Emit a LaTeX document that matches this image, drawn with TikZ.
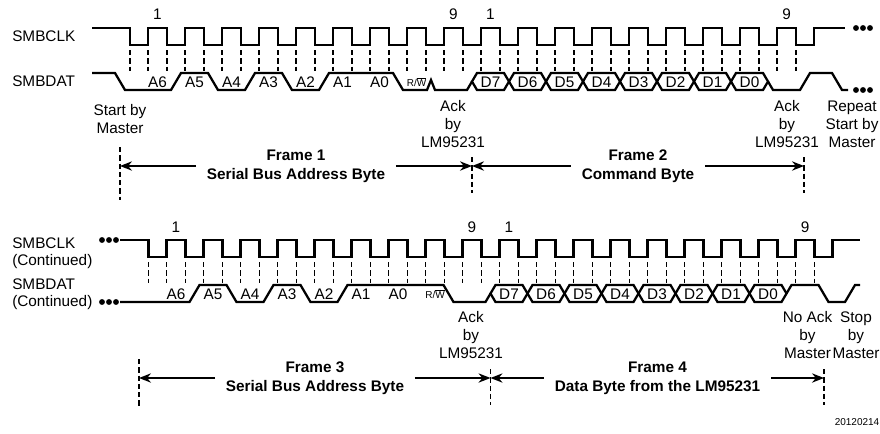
\documentclass[tikz,border=0pt]{standalone}
\usepackage{fontspec}
\setmainfont{Liberation Sans}
\usetikzlibrary{arrows.meta}

\begin{document}
\begin{tikzpicture}[x=0.75pt,y=-0.75pt,
    wave/.style={line width=1.7pt},
    tick/.style={line width=0.85pt,dash pattern=on 4pt off 2.2pt},
    frmarrow/.style={line width=1.1pt,arrows={-Stealth[length=9pt,width=7pt]}},
    sig/.style={font=\fontsize{11.5}{12.75}\selectfont,align=left,inner sep=0pt},
    note/.style={font=\fontsize{11.5}{13.5}\selectfont,align=center,inner sep=0pt},
    bit/.style={font=\fontsize{11.5}{13}\selectfont,inner sep=0pt},
    small/.style={font=\fontsize{7.5}{9}\selectfont,inner sep=0pt},
    frm/.style={font=\fontsize{11.5}{14.25}\selectfont\bfseries,align=center,inner xsep=8pt,inner ysep=0pt}]
\useasboundingbox (0,0) rectangle (880,433);

% signal names
\node[sig,anchor=west] (clk) at (12,36.5) {SMBCLK};
\node[sig,anchor=west] (dat) at (12,81.5) {SMBDAT};
\node[sig,anchor=west] (clkc) at (12,253.5) {SMBCLK\\(Continued)};
\node[sig,anchor=west] (datc) at (12,294) {SMBDAT\\(Continued)};

% frames 1 and 2
\draw[wave] (92,28) -- (130,28) -- (130,45)
    \foreach \k in {0,...,17} { -- ({148+37*\k},45) -- ({148+37*\k},28) -- ({167+37*\k},28) -- ({167+37*\k},45) }
    -- (814,45) -- (814,28) -- (845,28);
\draw[tick] (130,50) -- (130,71);
\foreach \k in {0,...,17} {
    \draw[tick] ({148+37*\k},50) -- ({148+37*\k},71);
    \draw[tick] ({167+37*\k},50) -- ({167+37*\k},71);
}
\draw[wave] (92,73) -- (115,73) -- (125,90) -- (171,90) -- (181,73) -- (208,73) -- (218,90)
    -- (245,90) -- (255,73) -- (282,73) -- (292,90) -- (319,90) -- (329,73) -- (393,73)
    -- (403,90) -- (427,90) -- (431,80) -- (435,90) -- (467,90) -- (472,81.5);
\foreach \k [evaluate=\k as \c using 176+37*\k] in {9,...,16}
    \draw[wave] ({\c-37},81.5) -- ({\c-32},73) -- ({\c-5},73) -- (\c,81.5) -- ({\c-5},90) -- ({\c-32},90) -- cycle;
\draw[wave] (768,81.5) -- (773,90) -- (800,90) -- (810,73) -- (832,73) -- (842,90) -- (848,90);
\foreach \x in {856,863,870} {
    \fill (\x,28) circle (2.2pt);
    \fill (\x,90) circle (2.2pt);
}

\foreach \t [count=\j from 0] in {A6,A5,A4,A3,A2,A1,A0}
    \node[bit] (ta\j) at ({157.5+37*\j},82) {\t};
\node[small] (trw) at (416.5,82) {R/$\overline{\mbox{W}}$};
\foreach \t [count=\j from 9] in {D7,D6,D5,D4,D3,D2,D1,D0}
    \node[bit] (td\j) at ({157.5+37*\j},82) {\t};
\node[bit] (tn1) at (157.5,14) {1};
\node[bit] (tn9) at (453.5,14) {9};
\node[bit] (tm1) at (490.5,14) {1};
\node[bit] (tm9) at (786.5,14) {9};

\node[note] (start) at (120,119) {Start by\\Master};
\node[note] (ack1) at (453,124) {Ack\\by\\LM95231};
\node[note] (ack2) at (787,124) {Ack\\by\\LM95231};
\node[note] (rstart) at (852,124) {Repeat\\Start by\\Master};

\draw[tick] (120,147) -- (120,200);
\draw[tick] (472,157) -- (472,193);
\draw[tick] (804,157) -- (804,193);
\coordinate (s1) at (120,166);
\coordinate (b12) at (472,166);
\coordinate (e2) at (804,166);
\node[frm] (f1) at (296,166) {Frame 1\\Serial Bus Address Byte};
\node[frm] (f2) at (638,166) {Frame 2\\Command Byte};
\draw[frmarrow] (f1.west) -- (s1);
\draw[frmarrow] (f1.east) -- (b12);
\draw[frmarrow] (f2.west) -- (b12);
\draw[frmarrow] (f2.east) -- (e2);

% frames 3 and 4
\begin{scope}[shift={(18.5,212)}]
\foreach \x in {83.5,90.5,97.5} {
    \fill (\x,28) circle (2.2pt);
    \fill (\x,90) circle (2.2pt);
}
\draw[wave] (101.5,28) -- (130,28) -- (130,45)
    \foreach \k in {0,...,17} { -- ({148+37*\k},45) -- ({148+37*\k},28) -- ({167+37*\k},28) -- ({167+37*\k},45) }
    -- (814,45) -- (814,28) -- (841.5,28);
\draw[tick] (130,50) -- (130,71);
\foreach \k in {0,...,17} {
    \draw[tick] ({148+37*\k},50) -- ({148+37*\k},71);
    \draw[tick] ({167+37*\k},50) -- ({167+37*\k},71);
}
\draw[wave] (101.5,90) -- (171,90) -- (181,73) -- (208,73) -- (218,90) -- (245,90) -- (255,73)
    -- (282,73) -- (292,90) -- (319,90) -- (329,73) -- (425,73) -- (435,90) -- (467,90) -- (472,81.5);
\foreach \k [evaluate=\k as \c using 176+37*\k] in {9,...,16}
    \draw[wave] ({\c-37},81.5) -- ({\c-32},73) -- ({\c-5},73) -- (\c,81.5) -- ({\c-5},90) -- ({\c-32},90) -- cycle;
\draw[wave] (768,81.5) -- (773,73) -- (800,73) -- (810,90) -- (826.5,90) -- (836.5,73) -- (841.5,73);

\foreach \t [count=\j from 0] in {A6,A5,A4,A3,A2,A1,A0}
    \node[bit] (ba\j) at ({157.5+37*\j},82) {\t};
\node[small] (brw) at (416.5,82) {R/$\overline{\mbox{W}}$};
\foreach \t [count=\j from 9] in {D7,D6,D5,D4,D3,D2,D1,D0}
    \node[bit] (bd\j) at ({157.5+37*\j},82) {\t};
\node[bit] (bn1) at (157.5,15) {1};
\node[bit] (bn9) at (453.5,15) {9};
\node[bit] (bm1) at (490.5,15) {1};
\node[bit] (bm9) at (786.5,15) {9};

\node[note] (ack3) at (452.5,123) {Ack\\by\\LM95231};
\node[note] (noack) at (789,123) {No Ack\\by\\Master};
\node[note] (stop) at (837.5,123) {Stop\\by\\Master};

\draw[tick] (120.5,147) -- (120.5,195);
\draw[tick] (472,157) -- (472,193);
\draw[tick] (805.5,157) -- (805.5,193);
\coordinate (s3) at (120.5,166);
\coordinate (b34) at (472,166);
\coordinate (e4) at (805.5,166);
\node[frm] (f3) at (296.5,166) {Frame 3\\Serial Bus Address Byte};
\node[frm] (f4) at (639,166) {Frame 4\\Data Byte from the LM95231};
\draw[frmarrow] (f3.west) -- (s3);
\draw[frmarrow] (f3.east) -- (b34);
\draw[frmarrow] (f4.west) -- (b34);
\draw[frmarrow] (f4.east) -- (e4);
\end{scope}

\node[small] (fig) at (857,422) {20120214};
\end{tikzpicture}
\end{document}
